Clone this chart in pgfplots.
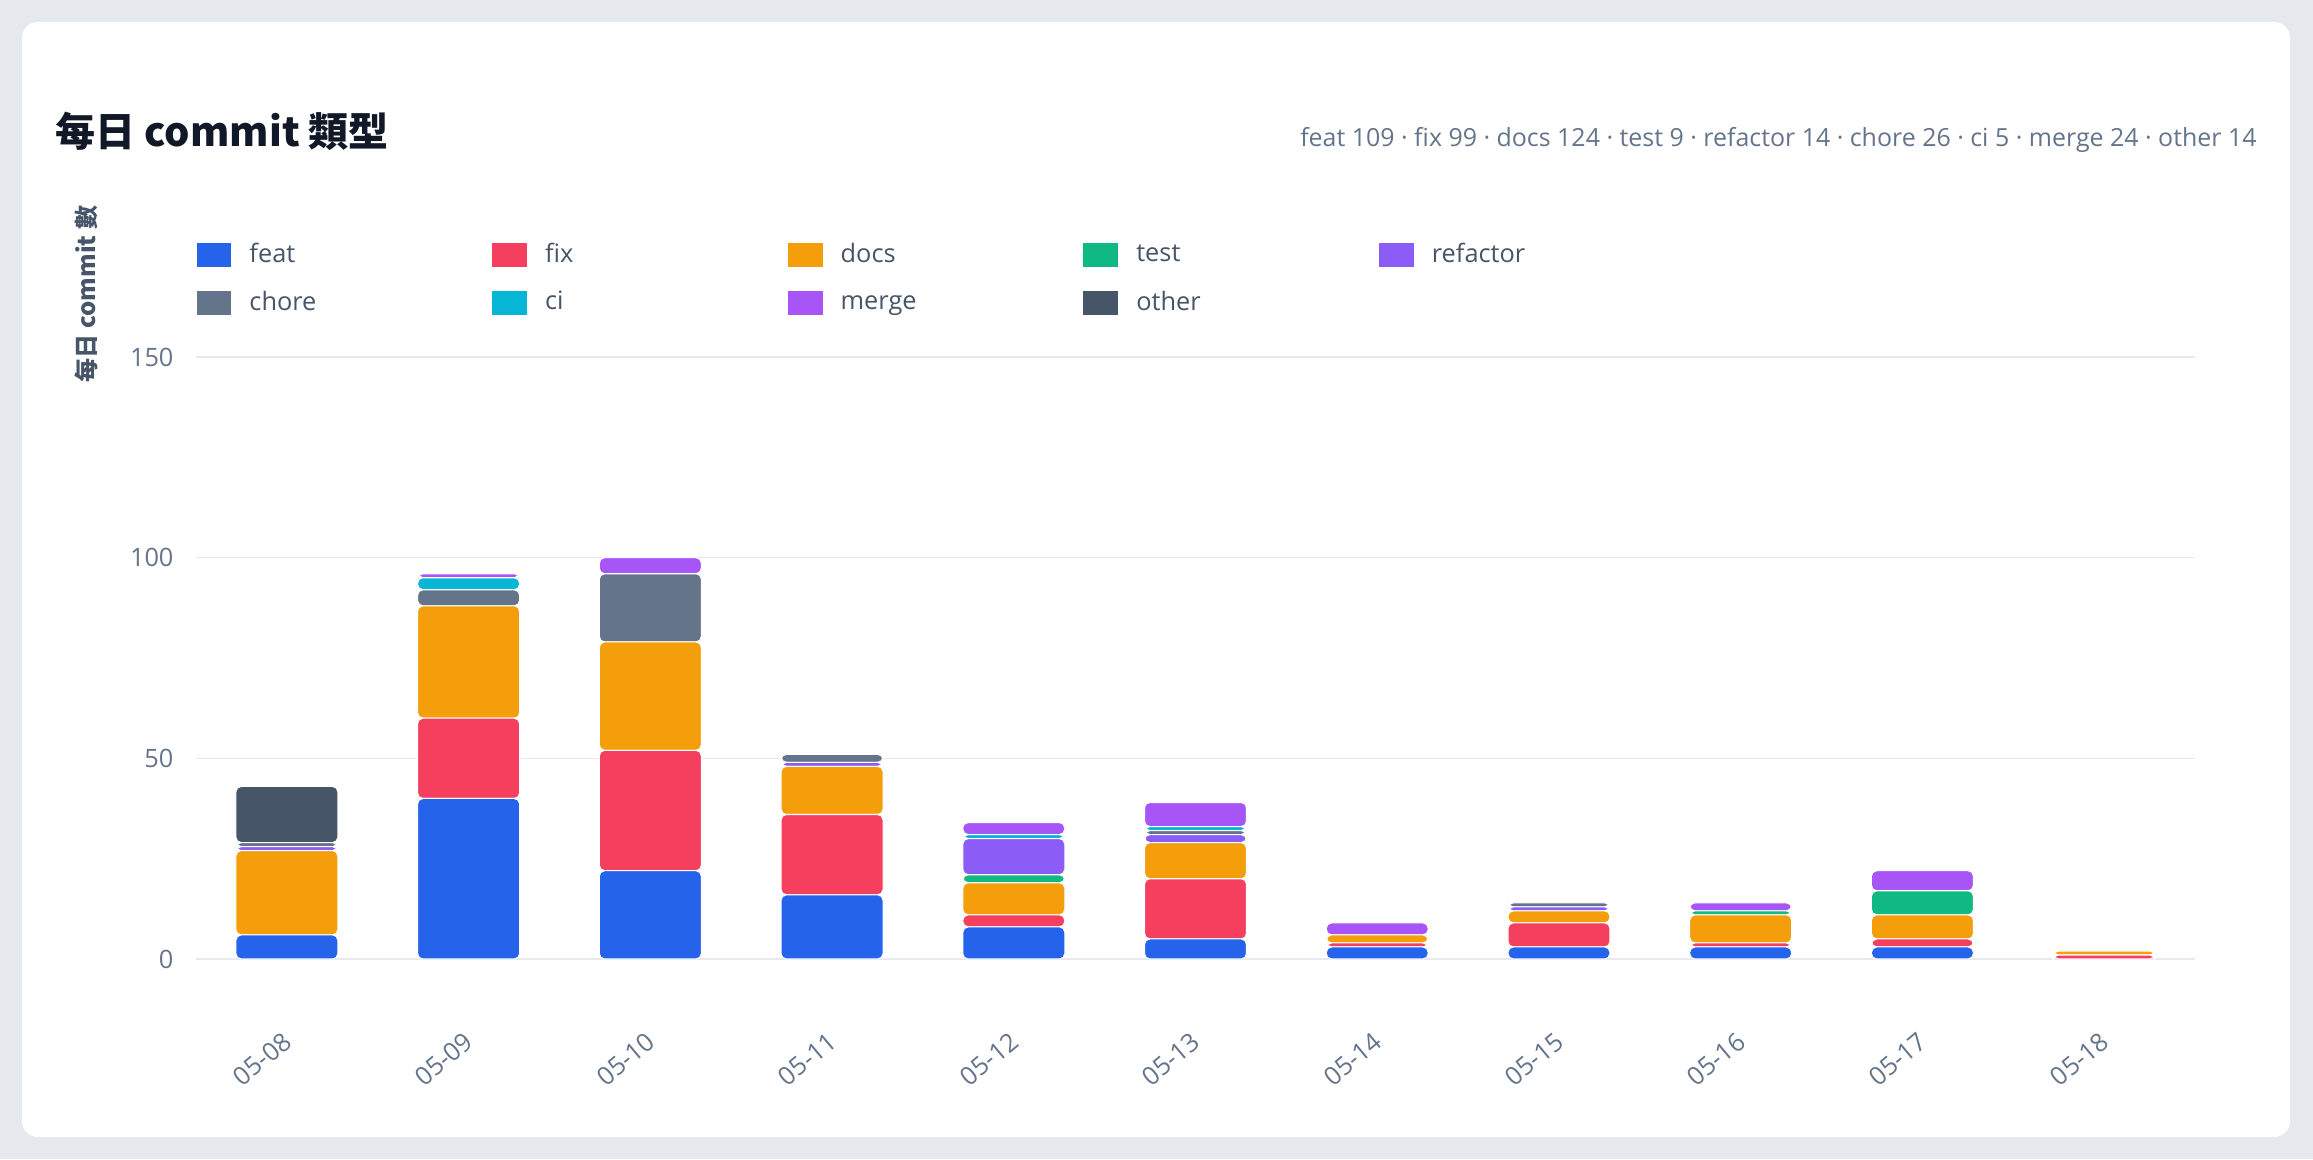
\documentclass[border=0pt]{standalone}
\usepackage{fontspec}
\setmainfont{Open Sans}
\newfontfamily\cjk{Noto Sans CJK TC}
\usepackage{pgfplots}
\usepackage{pgfplotstable}
\pgfplotsset{compat=1.18}
\definecolor{cfeat}{HTML}{2563EB}
\definecolor{cfix}{HTML}{F43F5E}
\definecolor{cdocs}{HTML}{F59E0B}
\definecolor{ctest}{HTML}{10B981}
\definecolor{crefactor}{HTML}{8B5CF6}
\definecolor{cchore}{HTML}{64748B}
\definecolor{cci}{HTML}{06B6D4}
\definecolor{cmerge}{HTML}{A855F7}
\definecolor{cother}{HTML}{475569}
\definecolor{bgout}{HTML}{E5E9EE}
\definecolor{gridc}{HTML}{E6EAF0}
\definecolor{tickc}{HTML}{64748B}
\definecolor{legc}{HTML}{475569}
\definecolor{titlec}{HTML}{111827}
\pgfplotstableread{
idx feat fix docs test refactor chore ci merge other
0 6 0 21 0 1 1 0 0 14
1 40 20 28 0 0 4 3 1 0
2 22 30 27 0 0 17 0 4 0
3 16 20 12 0 1 2 0 0 0
4 8 3 8 2 9 0 1 3 0
5 5 15 9 0 2 1 1 6 0
6 3 1 2 0 0 0 0 3 0
7 3 6 3 0 1 1 0 0 0
8 3 1 7 1 0 0 0 2 0
9 3 2 6 6 0 0 0 5 0
10 0 1 1 0 0 0 0 0 0
}\data
\newcommand\lentry[1]{\makebox[91pt][l]{\rule[-2.5pt]{0pt}{9.5pt}#1}}
\begin{document}
\begin{tikzpicture}
\begin{scope}[x=0.375pt,y=0.375pt]
\useasboundingbox (0,0) rectangle (2313,1159);
\fill[bgout] (0,0) rectangle (2313,1159);
\fill[white, rounded corners=6pt] (22,22) rectangle (2290,1137);
\node[anchor=base west, inner sep=0pt, text=titlec, font=\cjk\bfseries\fontsize{15}{18}\selectfont] at (55,1012) {每日 commit 類型};
\node[anchor=base east, inner sep=0pt, text=tickc, font=\fontsize{9.35}{11}\selectfont] at (2257,1012) {feat 109 · fix 99 · docs 124 · test 9 · refactor 14 · chore 26 · ci 5 · merge 24 · other 14};
\node[rotate=90, inner sep=0pt, text=legc, font=\cjk\bfseries\fontsize{9}{11}\selectfont] at (86,865) {每日 commit 數};
\end{scope}
\begin{axis}[
  at={(73.5pt,75pt)}, anchor=south west,
  scale only axis, width=749.625pt, height=225.75pt,
  xmin=-0.5, xmax=10.5, ymin=0, ymax=150,
  ybar stacked, bar width=38.25pt,
  xtick={0,...,10},
  xticklabels={05-08,05-09,05-10,05-11,05-12,05-13,05-14,05-15,05-16,05-17,05-18},
  ytick={0,50,100,150},
  axis line style={draw=none}, major tick length=0pt,
  ymajorgrids, grid style={color=gridc, line width=0.6pt},
  tick label style={font=\fontsize{9.5}{11}\selectfont, text=tickc},
  /pgf/number format/assume math mode=true,
  xticklabel style={xshift=-2pt, yshift=-26.6pt, rotate=40, anchor=north east, inner sep=0pt},
  yticklabel style={anchor=east, inner sep=0pt, xshift=-8.25pt},
  every axis plot/.append style={draw=white, line width=0.4pt, rounded corners=2pt},
  legend style={at={(axis description cs:0,1.191)}, anchor=north west, draw=none, fill=none,
    legend columns=5, inner sep=0pt, row sep=9pt, cells={anchor=center},
    font=\fontsize{9.5}{11}\selectfont, text=legc,
    nodes={inner sep=0pt},
    /tikz/every odd column/.append style={column sep=6.75pt}},
  legend image code/.code={\fill[#1, draw=none, rounded corners=0pt] (0pt,-4.5pt) rectangle (13.1pt,4.5pt);},
]
\addplot[fill=cfeat] table[x=idx,y=feat]{\data}; \addlegendentry{\lentry{feat}}
\addplot[fill=cfix] table[x=idx,y=fix]{\data}; \addlegendentry{\lentry{fix}}
\addplot[fill=cdocs] table[x=idx,y=docs]{\data}; \addlegendentry{\lentry{docs}}
\addplot[fill=ctest] table[x=idx,y=test]{\data}; \addlegendentry{\lentry{test}}
\addplot[fill=crefactor] table[x=idx,y=refactor]{\data}; \addlegendentry{\lentry{refactor}}
\addplot[fill=cchore] table[x=idx,y=chore]{\data}; \addlegendentry{\lentry{chore}}
\addplot[fill=cci] table[x=idx,y=ci]{\data}; \addlegendentry{\lentry{ci}}
\addplot[fill=cmerge] table[x=idx,y=merge]{\data}; \addlegendentry{\lentry{merge}}
\addplot[fill=cother] table[x=idx,y=other]{\data}; \addlegendentry{\lentry{other}}
\end{axis}
\end{tikzpicture}
\end{document}
